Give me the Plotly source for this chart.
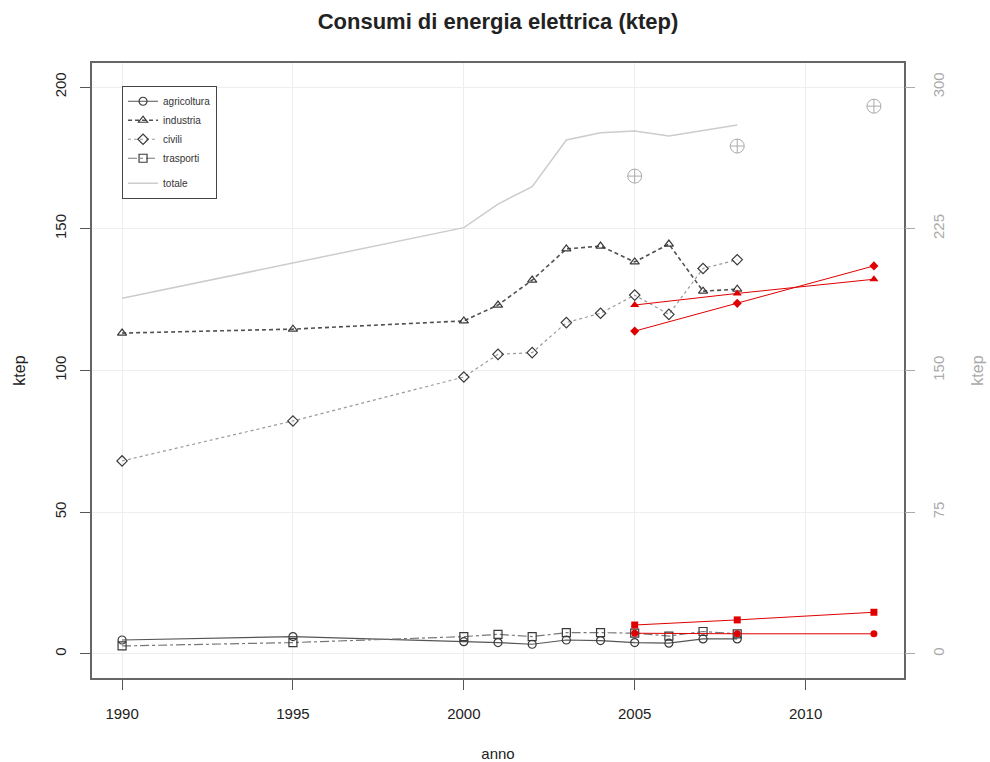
import plotly.graph_objects as go

# ---- data (ktep) ----
anni = [1990, 1995, 2000, 2001, 2002, 2003, 2004, 2005, 2006, 2007, 2008]
agricoltura = [4.9, 6.1, 4.3, 4.0, 3.4, 4.9, 4.7, 4.0, 3.8, 5.3, 5.3]
industria = [113.2, 114.6, 117.5, 123.1, 131.9, 142.9, 143.9, 138.3, 144.6, 128.0, 128.7]
civili = [68.1, 82.2, 97.7, 105.7, 106.3, 116.9, 120.2, 126.6, 119.8, 136.0, 139.1]
trasporti = [2.8, 4.0, 6.1, 6.9, 6.1, 7.5, 7.5, 7.3, 6.3, 7.9, 7.1]

anni_totale = [1990, 2000, 2001, 2002, 2003, 2004, 2005, 2006, 2007, 2008]
totale = [188.2, 225.6, 238.1, 247.3, 272.0, 275.8, 276.7, 274.1, 277.0, 279.9]

anni_obiettivo = [2005, 2008, 2012]
obiettivo_agricoltura = [7.3, 7.1, 7.1]
obiettivo_industria = [123.1, 127.2, 132.2]
obiettivo_civili = [113.9, 123.7, 136.9]
obiettivo_trasporti = [10.2, 12.0, 14.7]
obiettivo_totale = [252.9, 268.8, 289.9]

x_ticks = [1990, 1995, 2000, 2005, 2010]
y_ticks = [0, 50, 100, 150, 200]
y2_ticks = [0, 75, 150, 225, 300]

DARK = "#3a3a3a"
RED = "#e00000"
FONT = "Liberation Sans, Arial, sans-serif"

fig = go.Figure()

def serie(x, y, name, dash, lcolor, symbol, width=1.2):
    fig.add_trace(go.Scatter(
        x=x, y=y, name=name, mode="lines+markers", legendgroup="a",
        line=dict(color=lcolor, width=width, dash=dash),
        marker=dict(symbol=symbol, size=8, color=DARK,
                    line=dict(color=DARK, width=1.2)),
    ))

serie(anni, agricoltura, "agricoltura", "solid", "#555555", "circle-open")
serie(anni, industria, "industria", "4px,3px", "#505050", "triangle-up-open", 1.6)
serie(anni, civili, "civili", "dot", "#9a9a9a", "diamond-open")
serie(anni, trasporti, "trasporti", "dashdot", "#777777", "square-open")

fig.add_trace(go.Scatter(
    x=anni_totale, y=totale, name="totale", mode="lines", yaxis="y2",
    legendgroup="b", line=dict(color="#cccccc", width=1.5),
))

def obiettivo(y, symbol, size=7):
    fig.add_trace(go.Scatter(
        x=anni_obiettivo, y=y, mode="lines+markers", showlegend=False,
        line=dict(color=RED, width=1),
        marker=dict(symbol=symbol, size=size, color=RED),
    ))

obiettivo(obiettivo_agricoltura, "circle")
obiettivo(obiettivo_industria, "triangle-up", 8)
obiettivo(obiettivo_civili, "diamond")
obiettivo(obiettivo_trasporti, "square")

fig.add_trace(go.Scatter(
    x=anni_obiettivo, y=obiettivo_totale, mode="markers", yaxis="y2",
    showlegend=False,
    marker=dict(symbol="circle-cross-open", size=14, color="#aaaaaa",
                line=dict(width=1)),
))

fig.update_layout(
    width=990, height=762,
    paper_bgcolor="white", plot_bgcolor="white",
    margin=dict(l=92, r=86, t=63, b=84, autoexpand=False),
    font=dict(family=FONT, color="#222222"),
    title=dict(text="<b>Consumi di energia elettrica (ktep)</b>",
               x=0.503, xanchor="center", y=0.972, yanchor="middle",
               font=dict(size=22, color="#222222")),
    xaxis=dict(
        range=[1989.12, 2012.88], tickvals=x_ticks, automargin=False,
        ticks="outside", ticklen=10, tickcolor="#555555",
        showline=True, mirror=True, linecolor="#666666", linewidth=1.5,
        showgrid=True, gridcolor="#eeeeee", gridwidth=1,
        zeroline=False, tickfont=dict(size=15), ticklabelstandoff=11,
        title=dict(text="anno", font=dict(size=15), standoff=30),
    ),
    yaxis=dict(
        range=[-8.5, 208.5], tickvals=y_ticks, automargin=False,
        ticks="outside", ticklen=10, tickcolor="#555555",
        showline=True, mirror=True, linecolor="#666666", linewidth=1.5,
        showgrid=True, gridcolor="#eeeeee", gridwidth=1,
        zeroline=False, tickangle=-90, tickfont=dict(size=15),
        ticklabelstandoff=8,
        title=dict(text="ktep", font=dict(size=16), standoff=23),
    ),
    yaxis2=dict(
        overlaying="y", side="right", automargin=False,
        range=[-12.75, 312.75], tickvals=y2_ticks,
        ticks="outside", ticklen=10, tickcolor="#aaaaaa",
        showline=False, showgrid=False, zeroline=False,
        tickangle=-90, tickfont=dict(size=15, color="#aaaaaa"),
        ticklabelstandoff=11,
        title=dict(text="ktep", font=dict(size=16, color="#aaaaaa"), standoff=25),
    ),
    legend=dict(
        x=0.037, y=0.963, xanchor="left", yanchor="top",
        bgcolor="white", bordercolor="#444444", borderwidth=1,
        font=dict(size=10, color="#333333"),
        tracegroupgap=6, itemwidth=30,
    ),
)

fig.write_html(
    "out.html",
    config={"displayModeBar": False},
    post_script="document.body.style.margin='0';document.body.style.overflow='hidden';",
)
